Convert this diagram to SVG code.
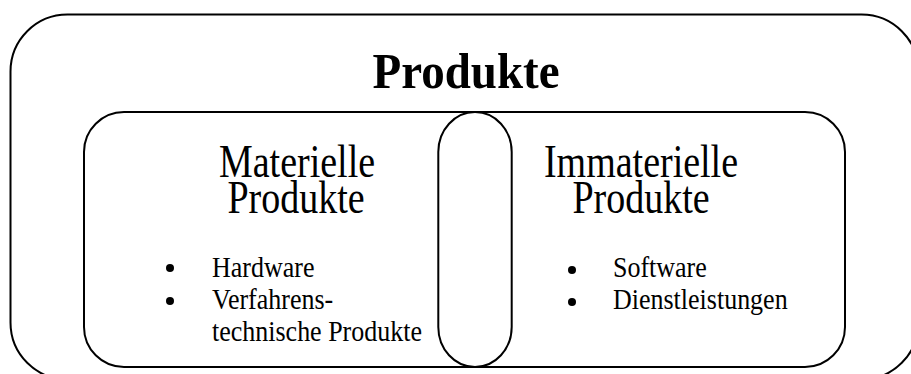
<svg xmlns="http://www.w3.org/2000/svg" width="911" height="374" viewBox="0 0 911 374">
<style>
.box{fill:none;stroke:#000;stroke-width:2}
.t{font-family:"Liberation Serif","Times New Roman",serif;fill:#000}
.title{font-size:47px;font-weight:bold;text-anchor:middle}
.head{font-size:38px;text-anchor:middle}
.item{font-size:26px}
</style>
<rect width="911" height="374" fill="#fff"/>
<g id="outer">
<rect class="box" x="10.5" y="14.5" width="908" height="365" rx="57" ry="57"/>
<text class="t title" transform="translate(466,88) scale(1,1.1)">Produkte</text>
</g>
<g id="materielle">
<rect class="box" x="84" y="112" width="761" height="255" rx="40" ry="40"/>
<text class="t head" transform="translate(297,177) scale(1,1.22)">Materielle</text>
<text class="t head" transform="translate(296,213) scale(1,1.22)">Produkte</text>
<circle cx="170" cy="268" r="4"/>
<circle cx="170" cy="301" r="4"/>
<text class="t item" transform="translate(212,277) scale(1,1.15)">Hardware</text>
<text class="t item" transform="translate(212,309) scale(1,1.15)">Verfahrens-</text>
<text class="t item" transform="translate(212,341) scale(1,1.15)">technische Produkte</text>
</g>
<g id="ueberschneidung">
<rect class="box" x="438.3" y="112" width="73.4" height="255" rx="36.7" ry="40"/>
</g>
<g id="immaterielle">
<text class="t head" transform="translate(641,177) scale(1,1.22)">Immaterielle</text>
<text class="t head" transform="translate(641,213) scale(1,1.22)">Produkte</text>
<circle cx="572" cy="270" r="4"/>
<circle cx="572" cy="302" r="4"/>
<text class="t item" transform="translate(613,277) scale(1,1.15)">Software</text>
<text class="t item" transform="translate(613,309) scale(1,1.15)">Dienstleistungen</text>
</g>
<g id="connectors"></g>
</svg>
